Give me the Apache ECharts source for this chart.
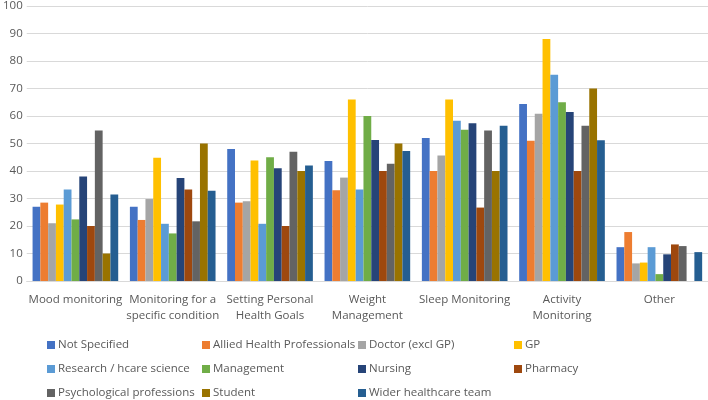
<!DOCTYPE html>
<html><head><meta charset="utf-8">
<script src="https://cdn.jsdelivr.net/npm/echarts@6/dist/echarts.min.js"></script>
<style>html,body{margin:0;padding:0;background:#fff}#c{width:708px;height:400px}</style>
</head><body><div id="c"></div>
<script>
const categories = ["Mood monitoring", "Monitoring for a\nspecific condition", "Setting Personal\nHealth Goals", "Weight\nManagement", "Sleep Monitoring", "Activity\nMonitoring", "Other"];
const seriesNames = ["Not Specified", "Allied Health Professionals", "Doctor (excl GP)", "GP", "Research / hcare science", "Management", "Nursing", "Pharmacy", "Psychological professions", "Student", "Wider healthcare team"];
const notSpecified = [27, 27, 48, 43.6, 52, 64.4, 12.3];
const allied = [28.5, 22.2, 28.5, 33, 40, 51, 17.8];
const doctor = [21, 29.8, 29, 37.6, 45.6, 60.8, 6.4];
const gp = [27.8, 44.8, 43.8, 66, 66, 88, 6.7];
const research = [33.3, 20.8, 20.8, 33.3, 58.3, 75, 12.3];
const management = [22.4, 17.3, 45, 60, 55, 65, 2.5];
const nursing = [38, 37.5, 41, 51.3, 57.4, 61.5, 9.7];
const pharmacy = [20, 33.3, 20, 40, 26.7, 40, 13.3];
const psych = [54.7, 21.7, 47, 42.6, 54.7, 56.5, 12.7];
const student = [10, 50, 40, 50, 40, 70, 0];
const wider = [31.5, 32.8, 42, 47.3, 56.5, 51.2, 10.5];
const yTicks = [0, 10, 20, 30, 40, 50, 60, 70, 80, 90, 100];

const seriesData = [notSpecified, allied, doctor, gp, research, management, nursing, pharmacy, psych, student, wider];
const colors = ["#4472C4", "#ED7D31", "#A5A5A5", "#FFC000", "#5B9BD5", "#70AD47", "#264478", "#9E480E", "#636363", "#997300", "#255E91"];
const TXT = "#595959";
const TEXT_BASE = {color: TXT, fontFamily: "'Open Sans', 'Liberation Sans', sans-serif", fontSize: 11.5};

const legendColLeft = [47, 202, 358, 514];
const legendRowTop = [339, 363, 387];

const chart = echarts.init(document.getElementById('c'), null, {renderer: 'canvas'});
chart.setOption({
  animation: false,
  color: colors,
  grid: {left: 23, right: 0, top: 5, bottom: 119, containLabel: false},
  xAxis: {
    type: 'category', data: categories,
    axisLine: {lineStyle: {color: '#d9d9d9'}},
    axisTick: {show: false},
    axisLabel: Object.assign({interval: 0, lineHeight: 16, margin: 11}, TEXT_BASE)
  },
  yAxis: {
    type: 'value', min: yTicks[0], max: yTicks[yTicks.length - 1], interval: 10,
    axisLine: {show: false}, axisTick: {show: false},
    splitLine: {lineStyle: {color: '#d9d9d9'}},
    axisLabel: Object.assign({margin: 4}, TEXT_BASE)
  },
  legend: seriesNames.map((n, i) => ({
    orient: 'horizontal', left: legendColLeft[i % 4], top: legendRowTop[Math.floor(i / 4)], data: [n],
    icon: 'rect', itemWidth: 8, itemHeight: 8, padding: 0,
    textStyle: Object.assign({padding: [0, 0, 0, -2]}, TEXT_BASE)
  })),
  series: seriesNames.map((n, i) => ({
    name: n, type: 'bar', data: seriesData[i],
    barGap: '0%', barCategoryGap: '12%'
  }))
});
</script></body></html>
